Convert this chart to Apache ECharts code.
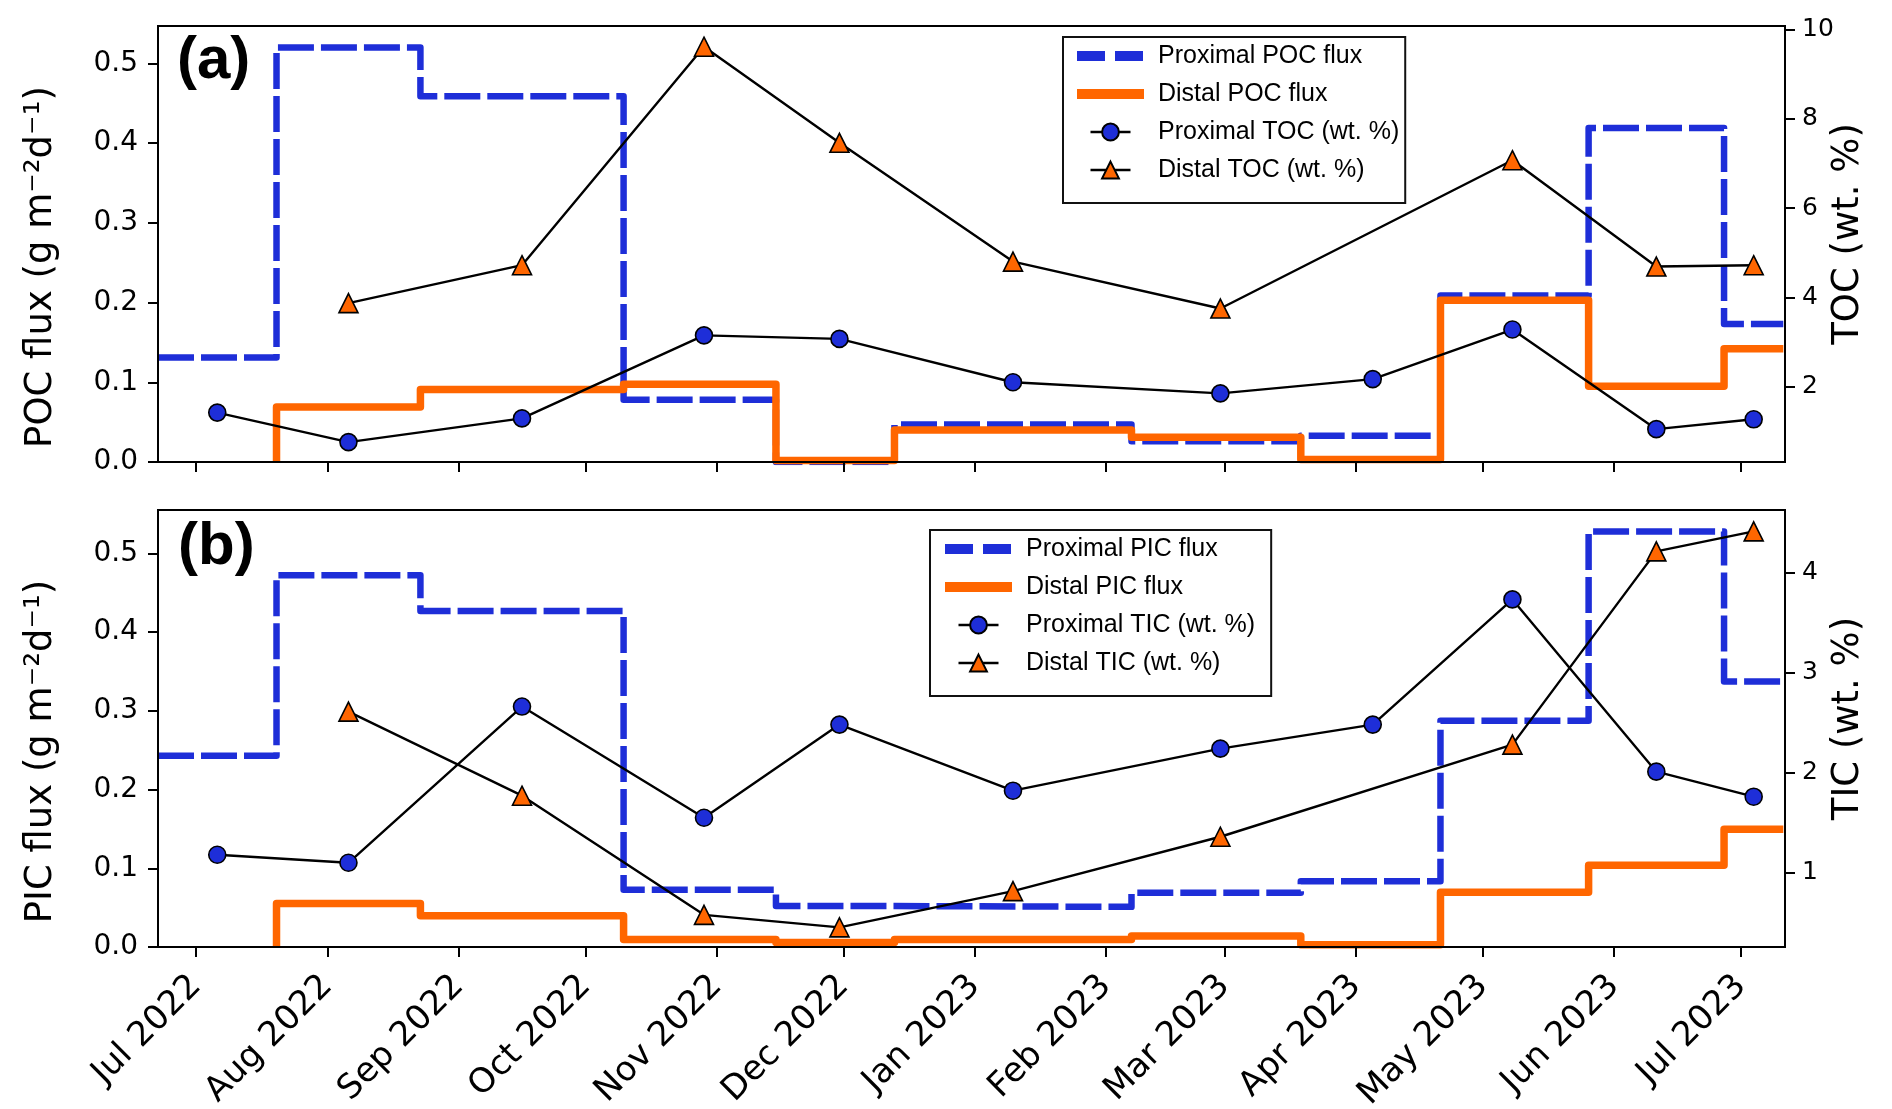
<!DOCTYPE html>
<html>
<head>
<meta charset="utf-8">
<script src="https://cdn.jsdelivr.net/npm/echarts@6.0.0/dist/echarts.min.js"></script>
<style>
html,body{margin:0;padding:0;background:#fff;}
#chart{width:1892px;height:1109px;}
</style>
</head>
<body>
<div id="chart"></div>
<script>
// ---------------- DATA ----------------
// Sediment-trap collection dates (flux value applies to the interval ending at each date)
const proximalFluxDates = ['2022-06-22','2022-07-20','2022-08-23','2022-10-10','2022-11-15','2022-12-13','2023-02-07','2023-03-19','2023-04-21','2023-05-26','2023-06-27','2023-07-11'];
const distalFluxDates   = ['2022-07-20','2022-08-23','2022-10-10','2022-11-15','2022-12-13','2023-02-07','2023-03-19','2023-04-21','2023-05-26','2023-06-27','2023-07-11'];

// (a) POC flux, g m-2 d-1
const proximalPOC = [0.131, 0.131, 0.520, 0.459, 0.078, 0.000, 0.047, 0.026, 0.033, 0.209, 0.419, 0.173];
const distalPOC   = [0.000, 0.069, 0.091, 0.0975, 0.002, 0.040, 0.031, 0.003, 0.203, 0.095, 0.142];
// (b) PIC flux, g m-2 d-1
const proximalPIC = [0.243, 0.243, 0.4725, 0.427, 0.0727, 0.052, 0.051, 0.069, 0.0834, 0.2874, 0.528, 0.3374];
const distalPIC   = [0.000, 0.0553, 0.0396, 0.0094, 0.0058, 0.0094, 0.014, 0.003, 0.0696, 0.104, 0.1497];

// Sediment sample dates for TOC / TIC
const sampleDates = ['2022-07-06','2022-08-06','2022-09-16','2022-10-29','2022-11-30','2023-01-10','2023-02-28','2023-04-05','2023-05-08','2023-06-11','2023-07-04'];
const proximalTOC = [1.42, 0.76, 1.29, 3.15, 3.07, 2.10, 1.85, 2.17, 3.28, 1.05, 1.27];
const distalTOC   = [null, 3.87, 4.72, 9.61, 7.46, 4.80, 3.75, null, 7.07, 4.69, 4.72];
const proximalTIC = [1.18, 1.10, 2.66, 1.55, 2.48, 1.82, 2.24, 2.48, 3.73, 2.01, 1.76];
const distalTIC   = [null, 2.61, 1.77, 0.58, 0.455, 0.817, 1.36, null, 2.28, 4.21, 4.41];

// Tick labels
const monthTicks = ['2022-07-01','2022-08-01','2022-09-01','2022-10-01','2022-11-01','2022-12-01','2023-01-01','2023-02-01','2023-03-01','2023-04-01','2023-05-01','2023-06-01','2023-07-01'];
const monthNames = ['Jan','Feb','Mar','Apr','May','Jun','Jul','Aug','Sep','Oct','Nov','Dec'];
const fluxTicks = [0, 0.1, 0.2, 0.3, 0.4, 0.5];
const tocTicks = [2, 4, 6, 8, 10];
const ticTicks = [1, 2, 3, 4];

// ---------------- BUILD ----------------
function ts(s){ const p = s.split('-').map(Number); return new Date(p[0], p[1]-1, p[2]).getTime(); }
function pairs(dates, vals){ return dates.map((d,i)=>[ts(d), vals[i]]); }

const BLUE = '#1e2ed8';
const ORANGE = '#ff6600';
const X_MIN = ts('2022-06-22');
const X_MAX = ts('2023-07-11') + 0.4*86400000;
const monthTickVals = monthTicks.map(ts);

function xAxisCfg(gi, showLabels){
  return {
    type:'value', gridIndex:gi, min:X_MIN, max:X_MAX, z:5, scale:true,
    axisLine:{show:true, onZero:false, lineStyle:{color:'#000', width:2}},
    axisTick:{show:true, customValues:monthTickVals, length:10, lineStyle:{color:'#000', width:2}},
    axisLabel:{show:showLabels, customValues:monthTickVals, rotate:45, margin:34,
      fontFamily:'DejaVu Sans', fontSize:34, color:'#000',
      formatter:function(v){ const d=new Date(Number(v)); return monthNames[d.getMonth()]+' '+d.getFullYear(); }},
    splitLine:{show:false}, minorTick:{show:false}
  };
}
function yAxisCfg(gi, pos, min, max, ticks, name, fmt, fsize, nameGap, namePad, margin){
  return {
    type:'value', gridIndex:gi, position:pos, min:min, max:max, z:5,
    axisLine:{show:true, onZero:false, lineStyle:{color:'#000', width:2}},
    axisTick:{show:true, customValues:ticks, length:10, lineStyle:{color:'#000', width:2}},
    axisLabel:{customValues:ticks, margin:margin, fontFamily:'DejaVu Sans', fontSize:fsize, color:'#000', formatter:fmt},
    splitLine:{show:false},
    name:name, nameLocation:'middle', nameRotate:90, nameGap:nameGap, nameMoveOverlap:false,
    nameTextStyle:{fontFamily:'DejaVu Sans', fontSize:37, color:'#000', padding:namePad}
  };
}
const f1 = v => Number(v).toFixed(1);
const f0 = v => String(Math.round(v));

function fluxSeries(name, xi, yi, data, color, dashed){
  return {
    name:name, type:'line', xAxisIndex:xi, yAxisIndex:yi, step:'start',
    data:data, symbol:'none', showSymbol:false, z:2, animation:false,
    lineStyle:{color:color, width:dashed?6.5:7.5, type:dashed?[36,7]:'solid', cap:'butt', join:'round'},
    itemStyle:{color:color}
  };
}
function pointSeries(name, xi, yi, data, symbol, fill){
  return {
    name:name, type:'line', xAxisIndex:xi, yAxisIndex:yi, data:data, connectNulls:true,
    symbol:symbol, symbolSize: symbol==='circle'?17:19, z:3, animation:false,
    lineStyle:{color:'#000', width:2.4},
    itemStyle:{color:fill, borderColor:'#000', borderWidth:1.6}
  };
}
function legendCfg(left, top, pad, textPadLeft, names){
  // short centred line behind marker entries (blank 13.5, line 40, blank rest)
  const shortLine = {width:2.4, type:[0, 13.5, 40, 100], cap:'butt'};
  return {
    orient:'vertical', left:left, top:top, padding:pad,
    itemWidth:67, itemHeight:21, itemGap:8, selectedMode:false,
    borderColor:'#111', borderWidth:2, backgroundColor:'#fff', z:10,
    textStyle:{fontFamily:'Liberation Sans', fontSize:25, color:'#000', lineHeight:30, padding:[0,0,0,textPadLeft]},
    data:[
      {name:names[0], itemStyle:{opacity:0}, lineStyle:{width:10, type:[28,10]}},
      {name:names[1], itemStyle:{opacity:0}, lineStyle:{width:10}},
      {name:names[2], lineStyle:shortLine},
      {name:names[3], lineStyle:shortLine}
    ]
  };
}

const option = {
  backgroundColor:'#fff',
  animation:false,
  title:[
    {text:'(a)', left:177, top:31, padding:0, textStyle:{fontFamily:'Liberation Sans', fontWeight:'bold', fontSize:60, color:'#000'}},
    {text:'(b)', left:178, top:517, padding:0, textStyle:{fontFamily:'Liberation Sans', fontWeight:'bold', fontSize:60, color:'#000'}}
  ],
  grid:[
    {left:158, top:26, width:1627, height:436, show:true, borderColor:'#000', borderWidth:2, backgroundColor:'transparent', containLabel:false, outerBoundsMode:'none'},
    {left:158, top:510, width:1627, height:437, show:true, borderColor:'#000', borderWidth:2, backgroundColor:'transparent', containLabel:false, outerBoundsMode:'none'}
  ],
  legend:[
    legendCfg(1063, 37, [4,6,18,9], 9, ['Proximal POC flux','Distal POC flux','Proximal TOC (wt. %)','Distal TOC (wt. %)']),
    legendCfg(930, 530, [4,16,18,10], 9, ['Proximal PIC flux','Distal PIC flux','Proximal TIC (wt. %)','Distal TIC (wt. %)'])
  ],
  xAxis:[ xAxisCfg(0,false), xAxisCfg(1,true) ],
  yAxis:[
    yAxisCfg(0,'left',0,0.547,fluxTicks,'POC flux (g m⁻²d⁻¹)',f1,28,98,[0,46,0,0],20),
    yAxisCfg(0,'right',0.3145,10.074,tocTicks,'TOC (wt. %)',f0,25,45,[0,0,0,20],17),
    yAxisCfg(1,'left',0,0.5553,fluxTicks,'PIC flux (g m⁻²d⁻¹)',f1,28,98,[0,46,0,0],20),
    yAxisCfg(1,'right',0.259,4.623,ticTicks,'TIC (wt. %)',f0,25,45,[0,0,0,20],17)
  ],
  series:[
    fluxSeries('Proximal POC flux',0,0,pairs(proximalFluxDates,proximalPOC),BLUE,true),
    fluxSeries('Distal POC flux',0,0,pairs(distalFluxDates,distalPOC),ORANGE,false),
    pointSeries('Proximal TOC (wt. %)',0,1,pairs(sampleDates,proximalTOC),'circle',BLUE),
    pointSeries('Distal TOC (wt. %)',0,1,pairs(sampleDates,distalTOC),'triangle',ORANGE),
    fluxSeries('Proximal PIC flux',1,2,pairs(proximalFluxDates,proximalPIC),BLUE,true),
    fluxSeries('Distal PIC flux',1,2,pairs(distalFluxDates,distalPIC),ORANGE,false),
    pointSeries('Proximal TIC (wt. %)',1,3,pairs(sampleDates,proximalTIC),'circle',BLUE),
    pointSeries('Distal TIC (wt. %)',1,3,pairs(sampleDates,distalTIC),'triangle',ORANGE)
  ]
};
const chart = echarts.init(document.getElementById('chart'), null, {renderer:'canvas'});
chart.setOption(option);
</script>
</body>
</html>
